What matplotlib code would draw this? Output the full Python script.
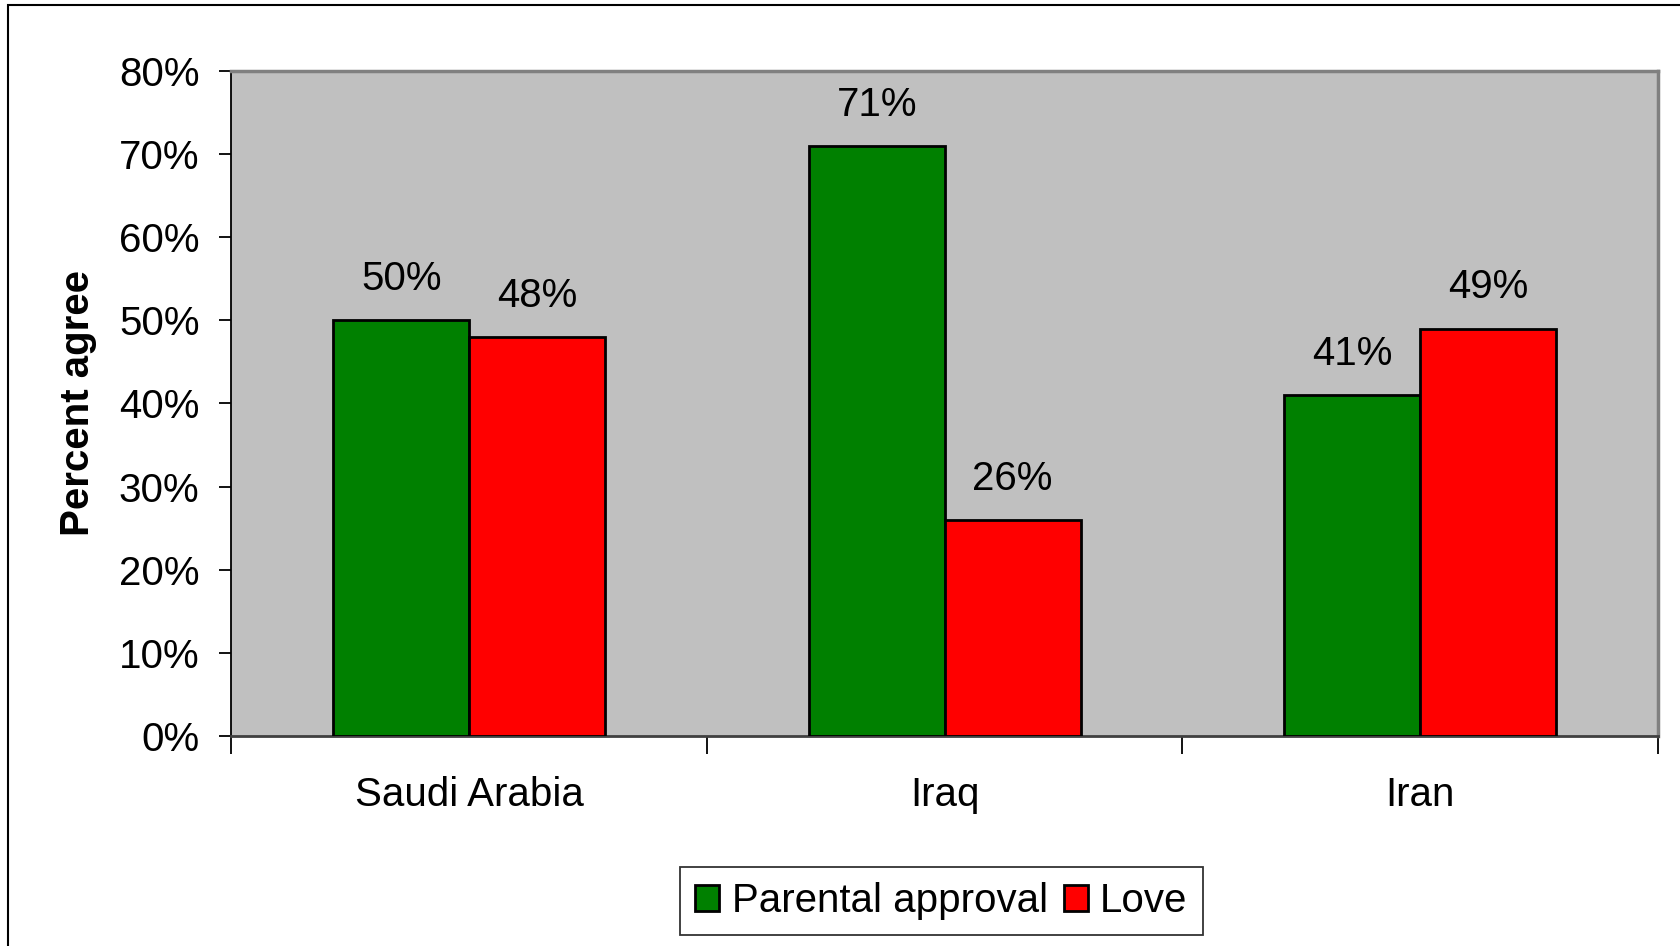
import numpy as np
import matplotlib.pyplot as plt
from matplotlib.patches import Rectangle

plt.rcParams["font.family"] = ["Liberation Sans", "DejaVu Sans"]

countries = ["Saudi Arabia", "Iraq", "Iran"]
parental = [0.50, 0.71, 0.41]
love = [0.48, 0.26, 0.49]
series_names = ["Parental approval", "Love"]
yticks = [0.0, 0.1, 0.2, 0.3, 0.4, 0.5, 0.6, 0.7, 0.8]

FS = 29

fig = plt.figure(figsize=(16.81, 9.46), dpi=100)
ax = fig.add_axes([0.1377, 0.222, 0.8486, 0.703])

# outer chart frame (cut off on right and bottom)
fig.patches.append(Rectangle((8 / 1681, -0.1), 1.2, 1 - 5 / 946 + 0.1,
                             transform=fig.transFigure, fill=False,
                             edgecolor="black", linewidth=1.5))

x = np.arange(len(countries))
w = 1 / 3.5
b1 = ax.bar(x - w / 2, parental, w, color="#008000", edgecolor="black",
            linewidth=2, label=series_names[0], zorder=3)
b2 = ax.bar(x + w / 2, love, w, color="#FF0000", edgecolor="black",
            linewidth=2, label=series_names[1], zorder=3)

for bars in (b1, b2):
    for r in bars:
        ax.annotate(f"{r.get_height() * 100:.0f}%",
                    (r.get_x() + r.get_width() / 2, r.get_height()),
                    xytext=(0, 16), textcoords="offset points",
                    ha="center", va="bottom", fontsize=FS)

ax.set_facecolor("#C0C0C0")
ax.set_xlim(-0.5, 2.5)
ax.set_ylim(0, 0.8)
ax.set_yticks(yticks)
ax.set_yticklabels([f"{v * 100:.0f}%" for v in yticks], fontsize=FS)
ax.tick_params(axis="y", direction="out", length=9, width=1.3, pad=14)

ax.set_xticks([-0.5, 0.5, 1.5, 2.5])
ax.set_xticklabels([])
ax.tick_params(axis="x", direction="out", length=13, width=1.3)
ax.set_xticks(x, minor=True)
ax.set_xticklabels(countries, minor=True, fontsize=FS)
ax.tick_params(axis="x", which="minor", length=0, pad=29)

ax.set_ylabel("Percent agree", fontsize=FS, fontweight="bold", labelpad=16)

for s in ("top", "right"):
    ax.spines[s].set_color("#808080")
    ax.spines[s].set_linewidth(2.5)
ax.spines["left"].set_color("black")
ax.spines["left"].set_linewidth(1.3)
ax.spines["bottom"].set_color("#404040")
ax.spines["bottom"].set_linewidth(2)

leg = fig.legend(handles=[b1, b2], loc="center", bbox_to_anchor=(0.56, 0.0476),
                 ncol=2, fontsize=FS, frameon=True, fancybox=False,
                 handlelength=0.6, handleheight=0.6, handletextpad=0.3,
                 columnspacing=0.4, borderpad=0.38, borderaxespad=0)
leg.get_frame().set_edgecolor("black")
leg.get_frame().set_linewidth(1.3)

fig.savefig("out.png", dpi=100)
